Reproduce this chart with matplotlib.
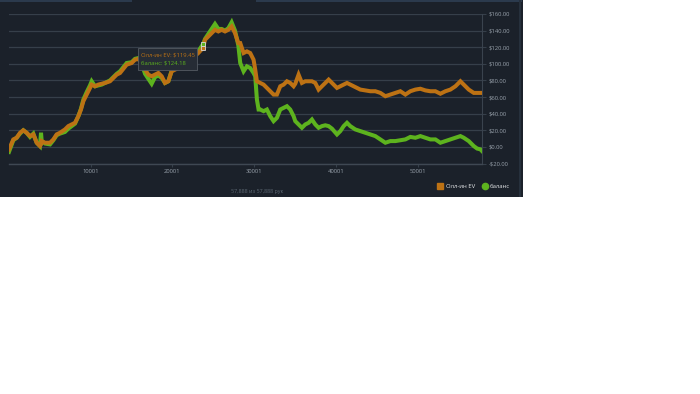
import matplotlib.pyplot as plt
from matplotlib.patches import Rectangle
from matplotlib.lines import Line2D

# данные
hands = [0, 530, 940, 1350, 1750, 2160, 2570, 2980, 3390, 3790, 3920, 4000, 4410, 5020,
         5430, 5830, 6240, 6850, 7260, 7670, 8080, 8490, 8810, 9100, 9510, 9910, 10120,
         10530, 10930, 11340, 11750, 12360, 12770, 13180, 13590, 13990, 14400, 15010,
         15420, 15830, 16240, 16650, 17050, 17460, 17870, 18280, 18690, 19090, 19500,
         19910, 20320, 20730, 21540, 22360, 23170, 23770, 23990, 24400, 24810, 25210,
         25620, 26030, 26440, 26850, 27250, 27660, 28070,
         28300, 28710, 29115, 29520, 29930, 30135, 30340, 30545, 30750, 31160, 31565,
         31970, 32380, 32790, 33200, 33610, 34015, 34420, 34830, 35035, 35440, 35850,
         36260, 36670, 37075, 37485, 37890, 38300, 38710, 39120, 39525, 40140, 40550,
         40955, 41365, 41770, 42385, 42995, 43610, 44220, 44835, 45450, 46060, 46670,
         47285, 47895, 48510, 49120, 49735, 50345, 50960, 51570, 52185, 52795, 53410,
         54020, 54635, 55245, 55655, 56265, 56880, 57290, 57695, 57888]

allin_ev = [-3, 9, 11, 17, 20, 17, 13, 15, 5, 1, 3, 7, 5, 5,
            9, 15, 17, 21, 25, 27, 29, 37, 45, 55, 63, 71, 75,
            73, 75, 76, 77, 79, 83, 87, 89, 94, 99, 101,
            105, 106, 101, 93, 87, 85, 87, 89, 85, 77, 79,
            91, 93, 95, 100, 106, 113, 119.45, 129, 133, 137, 141,
            139, 141, 139, 141, 145, 137, 125,
            125, 113, 115, 113, 105, 93, 79, 78, 77, 75, 71,
            67, 63, 63, 73, 75, 79, 77, 73, 76, 87, 77,
            79, 79, 79, 77, 69, 73, 77, 81, 77, 71, 73,
            75, 77, 75, 72, 69, 68, 67, 67, 65, 61, 63,
            65, 67, 63, 67, 69, 70, 68, 67, 67, 64, 67,
            69, 73, 79, 75, 69, 65, 65, 65, 65]

balance = [-6, 8, 11, 16, 20, 17, 12, 16, 5, 1, 17, 7, 4, 3,
           8, 14, 16, 18, 22, 25, 28, 37, 46, 57, 66, 74, 79,
           73, 74, 75, 77, 80, 84, 88, 91, 96, 101, 102,
           106, 107, 100, 88, 82, 76, 84, 86, 83, 77, 79,
           92, 94, 96, 101, 108, 115, 124.18, 130, 136, 142, 148,
           142, 142, 140, 143, 150, 140, 122,
           101, 91, 97, 95, 89, 85, 57, 45, 45, 43, 45,
           37, 31, 35, 45, 47, 49, 45, 37, 31, 27, 23,
           27, 29, 33, 27, 23, 25, 26, 25, 22, 15, 19,
           25, 29, 25, 21, 19, 17, 15, 13, 9, 5, 7,
           7, 8, 9, 12, 11, 13, 11, 9, 9, 5, 7,
           9, 11, 13, 11, 7, 1, -2, -3, -5]

hover_hand = 23770
hover_ev = 119.45
hover_bal = 124.18

y_ticks = [-20, 0, 20, 40, 60, 80, 100, 120, 140, 160]
y_labels = ['-$20.00', '$0.00', '$20.00', '$40.00', '$60.00', '$80.00',
            '$100.00', '$120.00', '$140.00', '$160.00']
x_ticks = [10001, 20001, 30001, 40001, 50001]

bg = '#1b212a'
grid_c = '#363f4a'
orange = '#bd7214'
green = '#5db31e'
label_c = '#98a1ab'

plt.rcParams['font.family'] = ['Open Sans', 'DejaVu Sans']

W, H = 700, 394
fig = plt.figure(figsize=(7, 3.94), dpi=100)
fig.patch.set_facecolor('white')

# тёмная панель виджета
fig.patches.append(Rectangle((0, 1 - 197 / H), 523 / W, 197 / H, transform=fig.transFigure,
                             facecolor=bg, edgecolor='none', zorder=-3))
fig.patches.append(Rectangle((0, 1 - 2 / H), 132 / W, 2 / H, transform=fig.transFigure,
                             facecolor='#2b3a4d', edgecolor='none', zorder=-2))
fig.patches.append(Rectangle((256 / W, 1 - 2 / H), 266 / W, 2 / H, transform=fig.transFigure,
                             facecolor='#2b3a4d', edgecolor='none', zorder=-2))
fig.patches.append(Rectangle((519 / W, 1 - 197 / H), 2 / W, 197 / H, transform=fig.transFigure,
                             facecolor='#26303c', edgecolor='none', zorder=-2))

ax = fig.add_axes([9 / W, 1 - 163.5 / H, 473 / W, 149.5 / H])
ax.set_facecolor('none')

ax.plot(hands, balance, color=green, lw=2.9, solid_joinstyle='miter', zorder=3)
ax.plot(hands, allin_ev, color=orange, lw=2.9, solid_joinstyle='miter', zorder=4)

# точка наведения
ax.plot([hover_hand], [hover_bal], marker='s', ms=3.2, color=green, mec='#d8d8d8', mew=0.6, zorder=6)
ax.plot([hover_hand], [hover_ev], marker='s', ms=3.2, color=orange, mec='#d8d8d8', mew=0.6, zorder=6)

ax.set_xlim(1, 57888)
ax.set_ylim(-20, 160)

ax.set_yticks(y_ticks)
ax.set_yticklabels(y_labels)
ax.yaxis.tick_right()
ax.set_xticks(x_ticks)
ax.set_xticklabels([str(t) for t in x_ticks])
ax.tick_params(axis='y', colors=grid_c, labelcolor=label_c, labelsize=4.2, length=3, width=0.8, pad=2)
ax.tick_params(axis='x', colors=grid_c, labelcolor=label_c, labelsize=4.2, length=2, width=0.8, pad=2)
ax.grid(axis='y', color=grid_c, lw=0.9)
ax.set_axisbelow(True)

for s in ['top', 'left']:
    ax.spines[s].set_visible(False)
ax.spines['right'].set_color('#3a434e')
ax.spines['bottom'].set_color('#3f4853')
ax.spines['right'].set_linewidth(0.8)
ax.spines['bottom'].set_linewidth(1.0)

# подсказка
ax.add_patch(Rectangle((15800, 92.5), 7230, 26.5, facecolor='#262c35', edgecolor='#555b63',
                       lw=0.6, zorder=7))
ax.text(16200, 110.6, 'Олл-ин EV: $119.45', fontsize=4.2, va='center', ha='left',
        color=orange, zorder=8)
ax.text(16200, 101, 'баланс: $124.18', fontsize=4.2, va='center', ha='left',
        color=green, zorder=8)

handles = [Line2D([], [], ls='none', marker='s', ms=4, color=orange),
           Line2D([], [], ls='none', marker='o', ms=4.5, color=green)]
fig.legend(handles, ['Олл-ин EV', 'баланс'], loc='center right', ncol=2,
           bbox_to_anchor=(513 / W, 1 - 186 / H), frameon=False, fontsize=4.3,
           labelcolor='#e4e6e8', handletextpad=0.5, columnspacing=1.2, handlelength=0.8,
           borderpad=0)

fig.text(257 / W, 1 - 191.5 / H, '57,888 из 57,888 рук', fontsize=3.9, color='#5d6873',
         ha='center', va='center')

fig.savefig('out.png', dpi=100)
